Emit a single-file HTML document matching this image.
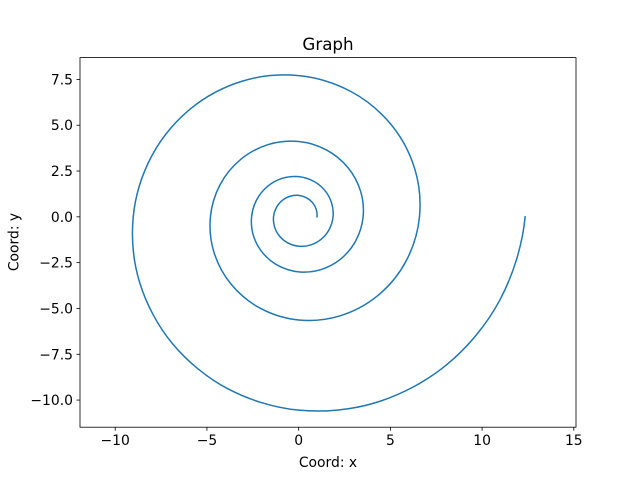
<!DOCTYPE html>
<html><head><meta charset="utf-8"><style>
body{margin:0;background:#fff}
svg text{font-family:"DejaVu Sans","Liberation Sans",sans-serif;fill:#000}
</style></head><body>
<svg id="chart" width="640" height="480" viewBox="0 0 640 480" xmlns="http://www.w3.org/2000/svg">
<rect width="640" height="480" fill="#fff"/>
<text x="328" y="50" font-size="16.7" text-anchor="middle">Graph</text>
<text x="328" y="467" font-size="13.9" text-anchor="middle">Coord: x</text>
<text x="0" y="0" font-size="13.9" text-anchor="middle" transform="translate(18.5,242) rotate(-90)">Coord: y</text>
<g id="plot"></g>
</svg>
<script>
const xTicks=[-10,-5,0,5,10,15];
const yTicks=[-10,-7.5,-5,-2.5,0,2.5,5,7.5];
const yTickLabels=["−10.0","−7.5","−5.0","−2.5","0.0","2.5","5.0","7.5"];
const xTickLabels=["−10","−5","0","5","10","15"];
const anglesDeg=[0,22.5,45,67.5,90,112.5,135,157.5,180,202.5,225,247.5,270,292.5,315,337.5,
360,382.5,405,427.5,450,472.5,495,517.5,540,562.5,585,607.5,630,652.5,675,697.5,
720,742.5,765,787.5,810,832.5,855,877.5,900,922.5,945,967.5,990,1012.5,1035,1057.5,
1080,1102.5,1125,1147.5,1170,1192.5,1215,1237.5,1260,1282.5,1305,1327.5,1350,1372.5,1395,1417.5,1440];
const radii=[1,1.04,1.0817,1.125,1.1701,1.217,1.2657,1.3164,1.3691,1.424,1.481,1.5403,1.6019,1.6661,1.7329,1.8023,
1.8745,1.9495,2.0277,2.1088,2.1933,2.2813,2.3726,2.4676,2.5663,2.6693,2.7762,2.8873,3.0028,3.1231,3.2483,3.3785,
3.5138,3.6543,3.8009,3.953,4.1115,4.2763,4.4474,4.6256,4.8107,5.0035,5.204,5.4122,5.6289,5.8544,6.089,6.333,
6.5866,6.8502,7.1247,7.4099,7.707,8.016,8.3367,8.6706,9.0177,9.3793,9.7548,10.1453,10.5511,10.974,11.414,11.8711,12.3468];

const L=80,R=576,T=57.6,B=427.2;
const xmin=-11.92,xmax=15.12,ymin=-11.48,ymax=8.69;
const sx=v=>L+(v-xmin)/(xmax-xmin)*(R-L);
const sy=v=>B-(v-ymin)/(ymax-ymin)*(B-T);
const NS="http://www.w3.org/2000/svg";
const g=document.getElementById('plot');
function mk(t,a){const e=document.createElementNS(NS,t);for(const k in a)e.setAttribute(k,a[k]);g.appendChild(e);return e;}

const pts=anglesDeg.map((a,i)=>{const t=a*Math.PI/180;return [sx(radii[i]*Math.cos(t)),sy(radii[i]*Math.sin(t))];});
function phantom(a,b,c){
  const v1=[b[0]-a[0],b[1]-a[1]],v2=[c[0]-b[0],c[1]-b[1]];
  const ang=Math.atan2(v2[1],v2[0])-Math.atan2(v1[1],v1[0]);
  const sc=Math.hypot(v2[0],v2[1])/Math.hypot(v1[0],v1[1]);
  const ca=Math.cos(ang)*sc,sa=Math.sin(ang)*sc;
  return [c[0]+v2[0]*ca-v2[1]*sa,c[1]+v2[0]*sa+v2[1]*ca];
}
const n=pts.length;
const ext=[phantom(pts[2],pts[1],pts[0]),...pts,phantom(pts[n-3],pts[n-2],pts[n-1])];
let d="M"+pts[0][0]+","+pts[0][1];
for(let i=1;i<ext.length-2;i++){
 const p0=ext[i-1],p1=ext[i],p2=ext[i+1],p3=ext[i+2];
 const c1=[p1[0]+(p2[0]-p0[0])/6,p1[1]+(p2[1]-p0[1])/6];
 const c2=[p2[0]-(p3[0]-p1[0])/6,p2[1]-(p3[1]-p1[1])/6];
 d+=" C"+c1+" "+c2+" "+p2;
}
const line=mk('path',{d:d,fill:'none',stroke:'#1f77b4','stroke-width':1.5,'stroke-linecap':'square'});



xTicks.forEach((v,i)=>{
 const x=sx(v);
 const tk=mk('line',{x1:x,x2:x,y1:B,y2:B+3.5,stroke:'#000','stroke-width':0.8});
 
 
 const tx=mk('text',{x:x,y:B+18,'font-size':13.9,'text-anchor':'middle'});
 tx.textContent=xTickLabels[i];
 
 
});
yTicks.forEach((v,i)=>{
 const y=sy(v);
 const tk=mk('line',{x1:L-3.5,x2:L,y1:y,y2:y,stroke:'#000','stroke-width':0.8});
 
 
 const tx=mk('text',{x:L-7,y:y+5,'font-size':13.9,'text-anchor':'end'});
 tx.textContent=yTickLabels[i];
 
 
});
const frame=mk('rect',{x:L,y:T,width:R-L,height:B-T,fill:'none',stroke:'#000','stroke-width':0.8});


</script>
</body></html>
